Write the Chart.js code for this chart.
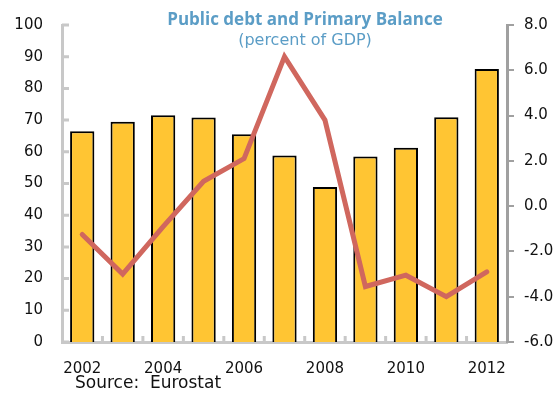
<!DOCTYPE html>
<html>
<head>
<meta charset="utf-8">
<script src="https://cdn.jsdelivr.net/npm/chart.js@4"></script>
<style>
    html, body { margin: 0; padding: 0; background: #fff; }
    #wrap { position: relative; width: 558px; height: 396px; }
    #fuente { position: absolute; left: 75px; top: 372px; font: 17px "DejaVu Sans", sans-serif; color: #111; white-space: pre; }
</style>
</head>
<body>
<div id="wrap">
    <canvas id="deudaChart" width="558" height="396"></canvas>
    <div id="fuente">Source:  Eurostat</div>
</div>
<script>
// Datos
const anios = ['2002', '2003', '2004', '2005', '2006', '2007', '2008', '2009', '2010', '2011', '2012'];
const deudaPublica = [66.5, 69.5, 71.5, 70.8, 65.5, 58.8, 48.9, 58.5, 61.3, 70.9, 86.1];
const balancePrimario = [-1.25, -3.0, -0.9, 1.1, 2.1, 6.6, 3.8, -3.55, -3.05, -4.0, -2.9];
const tituloTexto = 'Public debt and Primary Balance';
const subtituloTexto = '(percent of GDP)';

const fuenteEjes = { family: '"DejaVu Sans", sans-serif', size: 15 };

// Titulo dentro del area del grafico
const tituloPlugin = {
    id: 'tituloPlugin',
    afterDraw(chart) {
        const ctx = chart.ctx;
        ctx.save();
        ctx.fillStyle = '#5B9DC6';
        ctx.textAlign = 'center';
        ctx.textBaseline = 'alphabetic';
        ctx.font = 'bold 17px "Open Sans", sans-serif';
        ctx.fillText(tituloTexto, 305, 25);
        ctx.font = '16px "DejaVu Sans", sans-serif';
        ctx.fillText(subtituloTexto, 305, 45);
        ctx.restore();
    }
};

// Marcas hacia adentro en el eje izquierdo y en el eje X
const marcasPlugin = {
    id: 'marcasPlugin',
    afterDatasetsDraw(chart) {
        const ctx = chart.ctx;
        const area = chart.chartArea;
        const y = chart.scales.y;
        const x = chart.scales.x;
        ctx.save();
        ctx.strokeStyle = '#c8c8c8';
        ctx.lineWidth = 3;
        ctx.beginPath();
        y.ticks.forEach(t => {
            const py = y.getPixelForValue(t.value);
            ctx.moveTo(area.left, py);
            ctx.lineTo(area.left + 7, py);
        });
        for (let i = 1; i < anios.length; i++) {
            const px = (x.getPixelForValue(i - 1) + x.getPixelForValue(i)) / 2;
            ctx.moveTo(px, area.bottom);
            ctx.lineTo(px, area.bottom - 6);
        }
        ctx.stroke();
        ctx.restore();
    }
};

// Quitar el relleno vertical que agregan las etiquetas
function ajustarVertical(scale, ancho) {
    scale.width = ancho;
    scale.paddingTop = 0;
    scale.paddingBottom = 0;
}

const ctx = document.getElementById('deudaChart').getContext('2d');
new Chart(ctx, {
    data: {
        labels: anios,
        datasets: [
            {
                type: 'line',
                label: 'Primary Balance',
                data: balancePrimario,
                yAxisID: 'y2',
                borderColor: '#D0675E',
                borderWidth: 5,
                pointRadius: 0,
                tension: 0,
                borderCapStyle: 'round',
                borderJoinStyle: 'miter',
                order: 1
            },
            {
                type: 'bar',
                label: 'Public debt',
                data: deudaPublica,
                yAxisID: 'y',
                backgroundColor: '#FFC533',
                borderColor: '#000',
                borderWidth: 2,
                categoryPercentage: 1,
                barPercentage: 0.6,
                order: 2
            }
        ]
    },
    options: {
        responsive: false,
        animation: false,
        layout: { padding: { top: 25, right: 0, left: 0, bottom: 0 } },
        plugins: {
            legend: { display: false },
            tooltip: { enabled: false },
            title: { display: false }
        },
        scales: {
            x: {
                offset: true,
                grid: { display: false, drawTicks: false },
                border: { color: '#c8c8c8', width: 3 },
                ticks: {
                    autoSkip: false,
                    maxRotation: 0,
                    padding: 18,
                    color: '#111',
                    font: fuenteEjes,
                    callback: (v, i) => (i % 2 === 0 ? anios[i] : '')
                },
                afterFit: scale => { scale.height = 54; scale.paddingLeft = 0; scale.paddingRight = 0; }
            },
            y: {
                position: 'left',
                min: 0,
                max: 100,
                grid: { display: false, drawTicks: false },
                border: { color: '#c8c8c8', width: 3 },
                ticks: { stepSize: 10, padding: 19, color: '#111', font: fuenteEjes },
                afterFit: scale => ajustarVertical(scale, 62)
            },
            y2: {
                position: 'right',
                min: -6,
                max: 8,
                grid: { drawOnChartArea: false, drawTicks: true, tickLength: 7, color: '#a0a0a0', lineWidth: 2 },
                border: { color: '#a0a0a0', width: 3 },
                ticks: {
                    stepSize: 2,
                    padding: 10,
                    color: '#111',
                    font: fuenteEjes,
                    callback: v => Number(v).toFixed(1)
                },
                afterFit: scale => ajustarVertical(scale, 51)
            }
        }
    },
    plugins: [tituloPlugin, marcasPlugin]
});
</script>
</body>
</html>
